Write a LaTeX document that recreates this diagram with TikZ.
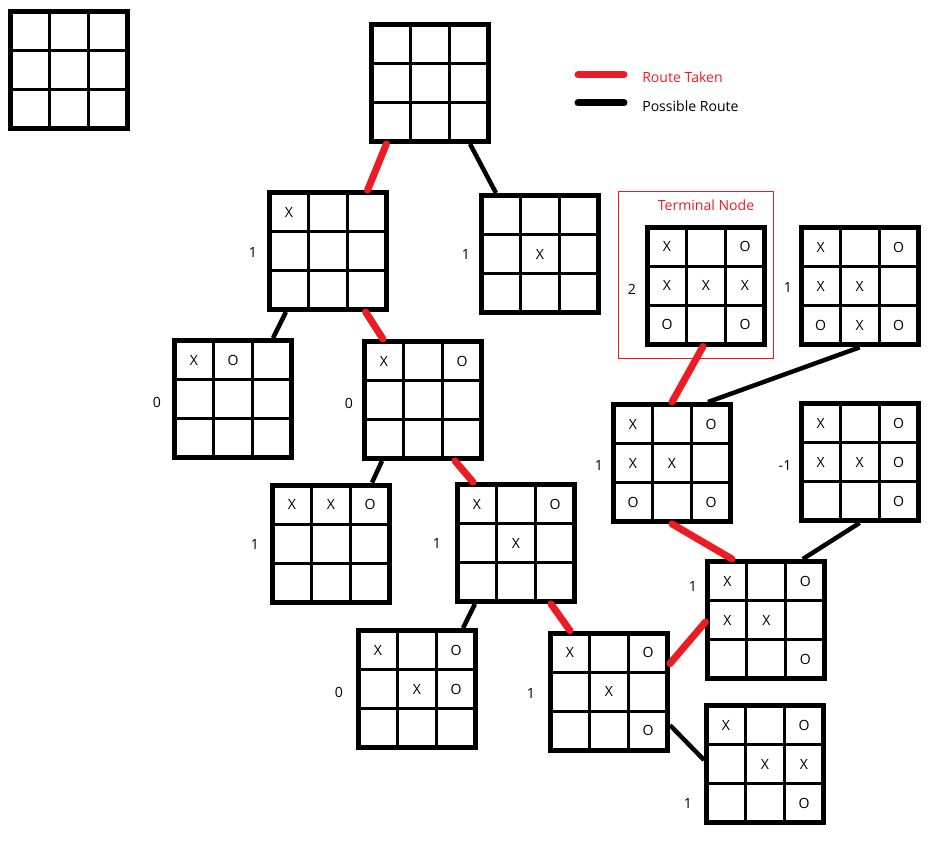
\documentclass[tikz,border=0pt]{standalone}
\usepackage{fontspec}
\setmainfont{Open Sans}

\definecolor{RouteColor}{RGB}{237,28,36}

\tikzset{
	boardbox/.style={draw, line width=3.5pt, minimum size=2.925cm, inner sep=0pt},
	gridline/.style={line width=2.1pt},
	cellmark/.style={font=\fontsize{10}{12}\selectfont, inner sep=0pt},
	score/.style={font=\fontsize{10}{12}\selectfont, inner sep=0pt},
	taken/.style={draw=RouteColor, line width=5pt, line cap=round},
	possible/.style={draw=black, line width=3.2pt}
}

% name, centre, marks as row/column/symbol
\newcommand{\drawboard}[3]{%
	\node [boardbox] (#1) at (#2) {};
	\foreach \d in {-0.4875,0.4875} {
		\draw [gridline] ([xshift=\d cm]#1.north) -- ([xshift=\d cm]#1.south);
		\draw [gridline] ([yshift=\d cm]#1.west) -- ([yshift=\d cm]#1.east);
	}
	\def\boardmarks{#3}%
	\ifx\boardmarks\empty\else
		\foreach \rowi/\coli/\symb in {#3} {
			\node [cellmark] at ([shift={(\coli*0.975-1.95,1.95-\rowi*0.975)}]#1.center) {\symb};
		}
	\fi
}

\begin{document}
\begin{tikzpicture}

	\useasboundingbox (0,0) rectangle (23.325,21.4);

	% Legend

	\coordinate (takenA) at (14.45,19.525);
	\coordinate (takenB) at (15.6,19.525);
	\coordinate (possibleA) at (14.45,18.825);
	\coordinate (possibleB) at (15.6,18.825);
	\draw [taken] (takenA) -- (takenB);
	\draw [possible, line width=5pt, line cap=round] (possibleA) -- (possibleB);
	\node [score, anchor=west, text=RouteColor] (takentext) at (16.05,19.475) {Route Taken};
	\node [score, anchor=west] (possibletext) at (16.05,18.75) {Possible Route};

	% Terminal node frame

	\node [draw=RouteColor, line width=0.7pt, minimum width=3.875cm, minimum height=4.175cm] (terminal) at (17.3875,14.5125) {};
	\node [score, text=RouteColor] (terminaltext) at (17.65,16.275) {Terminal Node};

	% Boards

	\drawboard{empty}{1.725,19.66}{}
	\drawboard{root}{10.76,19.325}{}
	\drawboard{a}{8.2,15.125}{1/1/X}
	\drawboard{b}{13.5,15.05}{2/2/X}
	\drawboard{c}{5.825,11.425}{1/1/X,1/2/O}
	\drawboard{d}{10.575,11.4}{1/1/X,1/3/O}
	\drawboard{e}{8.275,7.81}{1/1/X,1/2/X,1/3/O}
	\drawboard{f}{12.9,7.825}{1/1/X,1/3/O,2/2/X}
	\drawboard{g}{10.425,4.175}{1/1/X,1/3/O,2/2/X,2/3/O}
	\drawboard{h}{15.225,4.11}{1/1/X,1/3/O,2/2/X,3/3/O}
	\drawboard{i}{19.16,5.9}{1/1/X,1/3/O,2/1/X,2/2/X,3/3/O}
	\drawboard{j}{19.125,2.3}{1/1/X,1/3/O,2/2/X,2/3/X,3/3/O}
	\drawboard{k}{16.8,9.825}{1/1/X,1/3/O,2/1/X,2/2/X,3/1/O,3/3/O}
	\drawboard{l}{21.49,9.85}{1/1/X,1/3/O,2/1/X,2/2/X,2/3/O,3/3/O}
	\drawboard{m}{17.65,14.26}{1/1/X,1/3/O,2/1/X,2/2/X,2/3/X,3/1/O,3/3/O}
	\drawboard{n}{21.49,14.24}{1/1/X,1/3/O,2/1/X,2/2/X,3/1/O,3/2/X,3/3/O}

	% Scores

	\node [score] (sa) at (6.325,15.1) {1};
	\node [score] (sb) at (11.65,15.05) {1};
	\node [score] (sc) at (3.925,11.35) {0};
	\node [score] (sd) at (8.725,11.325) {0};
	\node [score] (se) at (6.375,7.8) {1};
	\node [score] (sf) at (10.925,7.825) {1};
	\node [score] (sg) at (8.475,4.1) {0};
	\node [score] (sh) at (13.275,4.075) {1};
	\node [score] (si) at (17.325,6.75) {1};
	\node [score] (sj) at (17.2,1.325) {1};
	\node [score] (sk) at (14.975,9.775) {1};
	\node [score] (sl) at (19.625,9.775) {-1};
	\node [score] (sm) at (15.8,14.175) {2};
	\node [score] (sn) at (19.7,14.225) {1};

	% Routes

	\draw [taken] ([xshift=-1.1cm]root.south) -- ([xshift=0.99cm]a.north);
	\draw [possible] ([xshift=0.99cm]root.south) -- ([xshift=-1.1cm]b.north);
	\draw [possible] ([xshift=-1.05cm]a.south) -- ([xshift=1cm]c.north);
	\draw [taken] ([xshift=0.94cm]a.south) -- ([xshift=-1cm]d.north);
	\draw [possible] ([xshift=-1.025cm]d.south) -- ([xshift=1.025cm]e.north);
	\draw [taken] ([xshift=0.8cm]d.south) -- ([xshift=-1.075cm]f.north);
	\draw [possible] ([xshift=-1.025cm]f.south) -- ([xshift=1.15cm]g.north);
	\draw [taken] ([xshift=0.875cm]f.south) -- ([xshift=-0.975cm]h.north);
	\draw [taken] ([yshift=0.7cm]h.east) -- ([yshift=-0.05cm]i.west);
	\draw [possible] ([yshift=-0.84cm]h.east) -- ([yshift=0.1cm]j.west);
	\draw [taken] ([xshift=-0.86cm]i.north) -- (k.south);
	\draw [possible] ([xshift=0.91cm]i.north) -- (l.south);
	\draw [taken] (k.north) -- ([xshift=-0.075cm]m.south);
	\draw [possible] ([xshift=0.9cm]k.north) -- (n.south);

\end{tikzpicture}
\end{document}
